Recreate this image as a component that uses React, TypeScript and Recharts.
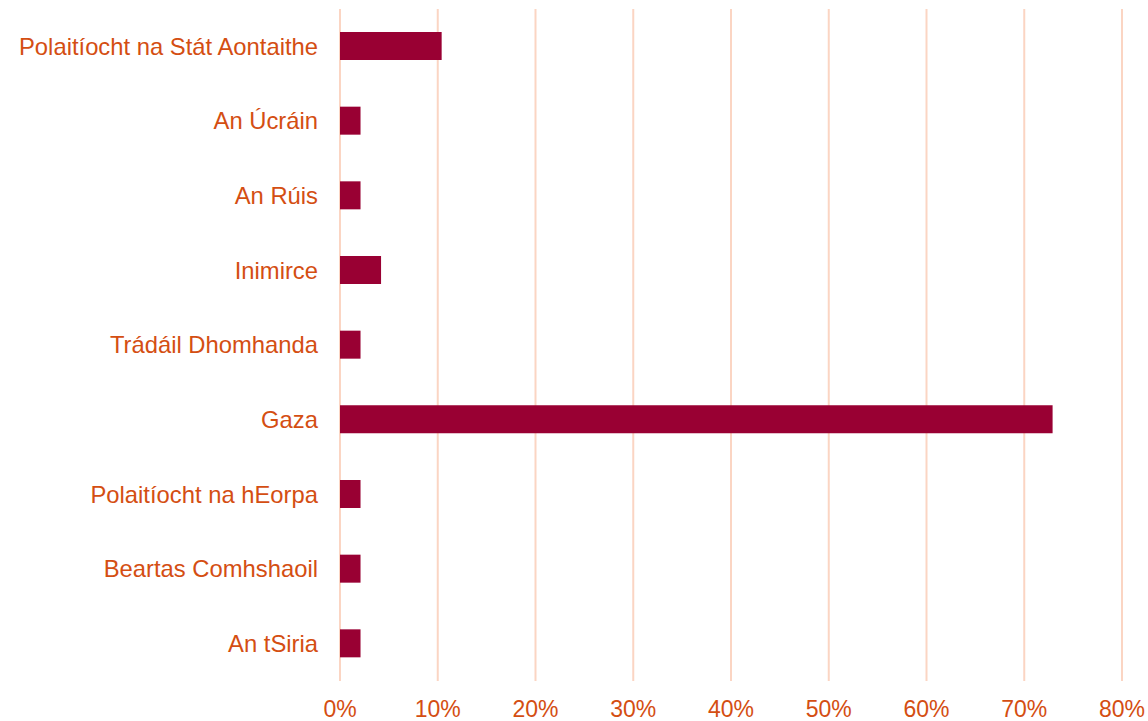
import { BarChart, Bar, XAxis, YAxis, CartesianGrid } from "recharts";

const categories = [
  "Polaitíocht na Stát Aontaithe",
  "An Úcráin",
  "An Rúis",
  "Inimirce",
  "Trádáil Dhomhanda",
  "Gaza",
  "Polaitíocht na hEorpa",
  "Beartas Comhshaoil",
  "An tSiria",
];

const shares = [10.4, 2.1, 2.1, 4.2, 2.1, 72.9, 2.1, 2.1, 2.1];

const xTicks = [0, 10, 20, 30, 40, 50, 60, 70, 80];

const data = categories.map((name, i) => ({ name, value: shares[i] }));

const textColor = "#D44E12";
const font = "'Liberation Sans', Arial, sans-serif";

export default function App() {
  return (
    <div style={{ position: "absolute", left: 0, top: 0, background: "#fff" }}>
      <BarChart
        width={1148}
        height={721}
        data={data}
        layout="vertical"
        margin={{ top: 9, right: 26, left: 0, bottom: 0 }}
      >
        <CartesianGrid horizontal={false} stroke="#FBD5C3" strokeWidth={2} />
        <XAxis
          type="number"
          domain={[0, 80]}
          ticks={xTicks}
          tickFormatter={(v) => `${v}%`}
          axisLine={false}
          tickLine={false}
          height={40}
          tickMargin={14}
          tick={{ fill: textColor, fontSize: 23, fontFamily: font }}
        />
        <YAxis
          type="category"
          dataKey="name"
          width={340}
          axisLine={false}
          tickLine={false}
          tickMargin={16}
          tick={{ fill: textColor, fontSize: 23.8, fontFamily: font }}
        />
        <Bar dataKey="value" fill="#990033" barSize={28} isAnimationActive={false} />
      </BarChart>
    </div>
  );
}
